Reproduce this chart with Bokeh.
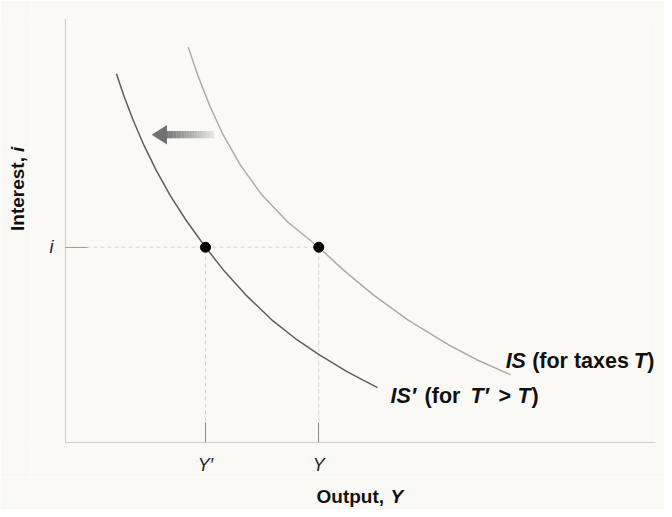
import math
import numpy as np
from bokeh.plotting import figure
from bokeh.models import Label, FixedTicker, Range1d
from bokeh.layouts import row, column
from bokeh.embed import file_html
from bokeh.resources import INLINE

# ---- data (arbitrary units 0..100) ----
is_prime_x = [8.64, 9.86, 11.47, 13.29, 15.36, 17.71, 20.41, 23.73, 26.76, 30.54, 34.95, 39.22, 42.97, 47.71, 52.88]
is_prime_y = [86.99, 81.88, 76.00, 70.12, 64.24, 58.35, 52.47, 46.05, 40.71, 34.82, 28.94, 24.24, 20.71, 16.71, 12.94]
is_x = [20.80, 22.42, 24.41, 26.75, 29.64, 33.31, 37.66, 42.93, 47.08, 52.17, 58.02, 64.88, 69.71, 75.42]
is_y = [93.25, 86.59, 79.53, 72.47, 65.41, 58.35, 52.00, 46.05, 40.71, 34.82, 28.94, 23.06, 19.53, 16.00]
y_prime_val = 23.73   # Y'
y_val = 42.93         # Y
i_val = 46.05         # i
tick_x_labels = {"Y′": y_prime_val, "Y": y_val}
arrow_start_x = 25.1
arrow_end_x = 14.6
arrow_y = 72.6

BG = "#faf9f6"
FONT = "Liberation Sans"
INK = "#111111"


def blank(w, h):
    f = figure(width=w, height=h, output_backend="svg", toolbar_location=None,
               x_range=Range1d(0, w), y_range=Range1d(0, h),
               x_axis_type=None, y_axis_type=None,
               min_border=0, background_fill_color=BG, border_fill_color=BG,
               outline_line_color=None)
    f.grid.visible = False
    return f


p = figure(width=634, height=477, output_backend="svg", toolbar_location=None,
           x_range=Range1d(0, 100), y_range=Range1d(0, 100),
           min_border_left=35, min_border_right=9, min_border_top=18, min_border_bottom=34,
           background_fill_color=BG, border_fill_color=BG, outline_line_color=None)
p.grid.visible = False

# axes
for ax in (p.xaxis[0], p.yaxis[0]):
    ax.axis_line_color = "#cfcfcf"
    ax.axis_line_width = 1.2
    ax.major_tick_line_color = "#8a8a8a"
    ax.major_tick_out = 0
    ax.minor_tick_line_color = None
    ax.major_label_text_font = FONT
    ax.major_label_text_font_style = "italic"
    ax.major_label_text_font_size = "18px"
    ax.major_label_text_color = "#222222"

p.xaxis.ticker = FixedTicker(ticks=list(tick_x_labels.values()))
p.xaxis.major_label_overrides = {v: k for k, v in tick_x_labels.items()}
p.xaxis.major_tick_in = 20
p.xaxis.major_label_standoff = 12
p.yaxis.ticker = FixedTicker(ticks=[i_val])
p.yaxis.major_label_overrides = {i_val: "i"}
p.yaxis.major_tick_in = 22
p.yaxis.major_tick_line_color = "#a0a0a0"
p.yaxis.major_label_standoff = 12

# guide lines
p.line([0, y_val], [i_val, i_val], line_color="#d6d6d6", line_dash="4 3", line_width=1)
p.line([y_prime_val, y_prime_val], [0, i_val], line_color="#d6d6d6", line_dash="4 3", line_width=1)
p.line([y_val, y_val], [0, i_val], line_color="#d6d6d6", line_dash="4 3", line_width=1)

# curves
p.line(is_x, is_y, line_color="#ababab", line_width=1.5, line_join="round")
p.line(is_prime_x, is_prime_y, line_color="#5e5e5e", line_width=1.5, line_join="round")

# points
p.scatter([y_prime_val, y_val], [i_val, i_val], size=10, color="black")

# arrow with gradient shaft
head_len = 2.6
shaft_half = 0.85
head_half = 2.3
xs = np.linspace(arrow_end_x + head_len - 0.3, arrow_start_x, 31)
for k in range(30):
    t = k / 29
    g = int(0x74 + (0xe4 - 0x74) * t)
    col = "#%02x%02x%02x" % (g, g, g)
    p.quad(left=xs[k], right=xs[k + 1] + 0.05, bottom=arrow_y - shaft_half,
           top=arrow_y + shaft_half, fill_color=col, line_color=None)
p.patch([arrow_end_x, arrow_end_x + head_len, arrow_end_x + head_len],
        [arrow_y, arrow_y + head_half, arrow_y - head_half],
        fill_color="#717171", line_color=None)


def rich(fig, x, y, pieces, size, angle=0.0):
    """pieces: (text, style, offset in px along the text direction)"""
    for text, style, off in pieces:
        fig.add_layout(Label(x=x, y=y, x_offset=off * math.cos(angle), y_offset=off * math.sin(angle),
                             text=text, angle=angle, text_font=FONT, text_font_style=style,
                             text_font_size=f"{size}px", text_color=INK,
                             text_baseline="middle", text_align="left"))


rich(p, 74.6, 19.3, [("IS", "bold italic", 0), ("(for taxes", "bold", 26.5),
                     ("T", "bold italic", 128), (")", "bold", 141.5)], 21.5)
rich(p, 55.1, 11.0, [("IS′", "bold italic", 0), ("(for", "bold", 34), ("T′", "bold italic", 80),
                     (">", "bold", 108), ("T", "bold italic", 127), (")", "bold", 141)], 21.5)

# axis titles in side strips
left = blank(30, 477)
rich(left, 17, 238, [("Interest,", "bold", 0), ("i", "bold italic", 79)], 19, angle=math.pi / 2)
bottom = blank(664, 32)
rich(bottom, 316, 13, [("Output,", "bold", 0), ("Y", "bold italic", 74)], 19)

layout = column(row(left, p, spacing=0), bottom, spacing=0)
open("out.html", "w").write(file_html(layout, INLINE))
